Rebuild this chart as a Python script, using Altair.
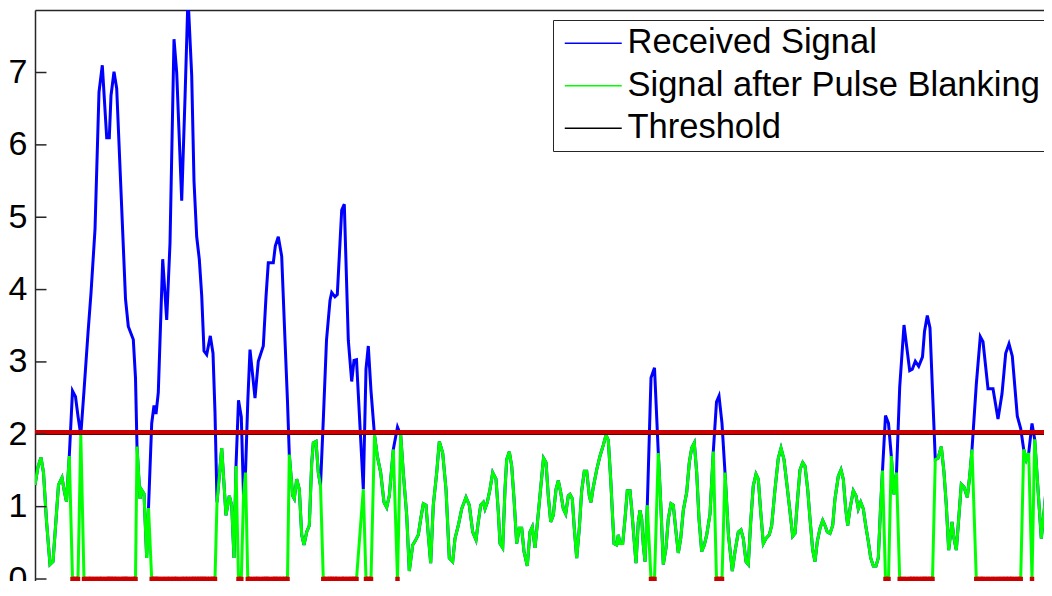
import altair as alt
import pandas as pd

# ---- data ----
time_us = [
    0.00, 0.30, 0.60, 0.85, 1.15, 1.50, 1.80, 2.05, 2.35, 2.70,
    2.95, 3.15, 3.43, 3.75, 4.05, 4.30, 4.58, 4.90, 5.30, 5.60,
    6.00, 6.40, 6.73, 7.17, 7.43, 7.60, 7.90, 8.17, 8.57, 8.90,
    9.05, 9.33, 9.83, 10.05, 10.20, 10.50, 10.67, 10.90, 11.17, 11.35,
    11.67, 11.90, 12.10, 12.33, 12.77, 13.17, 13.50, 13.90, 14.17, 14.67,
    15.00, 15.30, 15.67, 15.90, 16.17, 16.43, 16.67, 16.90, 17.17, 17.53,
    17.80, 18.00, 18.20, 18.67, 19.10, 19.43, 19.67, 19.90, 20.10, 20.35,
    20.63, 20.85, 21.05, 21.28, 21.50, 22.00, 22.33, 22.83, 23.10, 23.33,
    23.83, 24.03, 24.33, 24.67, 25.00, 25.25, 25.43, 25.77, 25.93, 26.17,
    26.43, 26.67, 26.90, 27.17, 27.43, 27.67, 27.83, 28.10, 28.33, 28.55,
    28.83, 29.15, 29.50, 29.67, 30.00, 30.23, 30.67, 30.93, 31.33, 31.67,
    31.90, 32.15, 32.83, 33.10, 33.33, 33.60, 33.95, 34.23, 34.57, 34.90,
    35.17, 35.43, 35.83, 36.25, 36.57, 36.83, 37.17, 37.43, 37.77, 38.00,
    38.33, 38.57, 38.83, 39.10, 39.33, 39.57, 39.83, 40.17, 40.43, 40.77,
    41.10, 41.43, 41.77, 42.00, 42.33, 42.67, 43.10, 43.43, 43.77, 44.10,
    44.33, 44.57, 44.83, 45.00, 45.23, 45.50, 45.77, 46.10, 46.33, 46.50,
    46.77, 47.00, 47.17, 47.43, 47.67, 47.90, 48.17, 48.43, 48.67, 48.90,
    49.23, 49.50, 49.73, 50.00, 50.25, 50.85, 51.10, 51.33, 51.57, 51.83,
    52.10, 52.33, 52.57, 52.83, 53.07, 53.33, 53.50, 53.73, 53.93, 54.17,
    54.43, 54.67, 54.93, 55.17, 55.43, 55.60, 55.83, 56.17, 56.50, 56.83,
    57.10, 57.33, 57.57, 57.77, 57.90, 58.17, 58.33, 58.50, 58.77, 59.00,
    59.23, 59.50, 59.67, 59.90, 60.10, 60.33, 60.50, 60.67, 60.83, 61.00,
    61.23, 61.60, 61.95, 62.33, 62.57, 62.83, 63.10, 63.33, 63.60, 63.83,
    64.10, 64.33, 64.57, 64.83, 65.17, 65.43, 65.67, 65.93, 66.17, 66.40,
    66.67, 66.93, 67.17, 67.50, 67.83, 68.15, 68.40, 68.70, 69.00, 69.35,
    69.73, 70.00, 70.33, 70.60, 70.83, 71.10, 71.33, 71.57, 71.83, 72.10,
    72.33, 72.57, 72.83, 73.10, 73.43, 73.67, 74.00, 74.33, 74.60, 74.90,
    75.17, 75.50, 75.77, 76.00, 76.23, 76.50, 76.77, 77.00, 77.27, 77.50,
    77.77, 78.00, 78.23, 78.50, 78.77, 79.00, 79.23, 79.50, 79.77, 80.00,
    80.33, 80.60, 80.83, 81.07, 81.27, 81.50, 81.83, 82.10, 82.33, 82.57,
    82.83, 83.07, 83.33, 83.57, 83.83, 84.10, 84.33, 84.55, 84.75, 85.05,
    85.35, 85.63, 85.90, 86.15, 86.47, 86.90, 87.47, 87.73, 88.03, 88.37,
    88.75, 88.95, 89.23, 89.50, 89.75, 90.03, 90.30, 90.63, 90.90, 91.13,
    91.37, 91.70, 91.90, 92.13, 92.37, 92.63, 92.90, 93.23, 93.47, 93.70,
    94.13, 94.53, 94.80, 95.30, 95.80, 96.30, 96.70, 97.07, 97.40, 97.73,
    98.23, 98.57, 98.87, 99.13, 99.37, 99.70, 99.97, 100.30, 100.63, 100.97,
    101.30, 101.63,
]

received = [
    1.30, 1.55, 1.68, 1.47, 0.80, 0.20, 0.24, 0.72, 1.30, 1.40,
    1.20, 1.07, 1.70, 2.60, 2.52, 2.25, 1.99, 2.60, 3.40, 3.95,
    4.83, 6.73, 7.10, 6.10, 6.10, 6.68, 7.01, 6.78, 5.46, 4.37,
    3.87, 3.49, 3.31, 2.78, 1.83, 1.11, 1.23, 1.18, 0.29, 0.98,
    2.15, 2.40, 2.28, 2.58, 4.42, 3.58, 4.64, 7.46, 7.00, 5.23,
    6.64, 8.05, 6.96, 5.50, 4.73, 4.42, 3.92, 3.15, 3.10, 3.36,
    3.12, 2.30, 1.06, 1.81, 0.88, 1.15, 1.02, 0.29, 1.56, 2.47,
    2.24, 1.15, 1.47, 2.46, 3.17, 2.50, 3.01, 3.22, 3.90, 4.37,
    4.37, 4.60, 4.73, 4.46, 3.30, 2.45, 1.72, 1.15, 1.11, 1.38,
    1.24, 0.61, 0.47, 0.65, 0.74, 1.60, 1.88, 1.90, 1.47, 1.29,
    2.20, 3.30, 3.85, 3.96, 3.90, 3.93, 5.10, 5.18, 3.30, 2.73,
    3.02, 3.03, 1.24, 2.90, 3.22, 2.60, 1.99, 1.70, 1.47, 1.06,
    0.99, 1.15, 1.79, 2.10, 1.99, 1.47, 0.88, 0.11, 0.47, 0.52,
    0.61, 0.83, 1.04, 1.02, 0.61, 0.22, 1.02, 1.47, 1.90, 1.74,
    1.24, 0.29, 0.24, 0.56, 0.74, 0.97, 1.13, 1.02, 0.65, 0.54,
    0.79, 1.02, 1.06, 0.97, 1.06, 1.24, 1.47, 1.38, 0.93, 0.49,
    0.43, 1.24, 1.65, 1.76, 1.56, 1.11, 0.49, 0.70, 0.70, 0.38,
    0.18, 0.65, 0.72, 0.43, 0.79, 1.67, 1.61, 1.15, 0.79, 0.88,
    1.24, 1.36, 1.20, 0.97, 0.90, 1.15, 1.17, 1.11, 0.70, 0.29,
    0.70, 1.22, 1.49, 1.49, 1.15, 1.06, 1.27, 1.51, 1.70, 1.85,
    1.99, 1.92, 1.38, 0.83, 0.49, 0.47, 0.61, 0.49, 0.49, 0.83,
    1.22, 1.22, 0.97, 0.56, 0.22, 0.79, 0.95, 0.83, 0.47, 0.24,
    1.02, 2.78, 2.92, 1.74, 1.06, 0.20, 0.43, 0.83, 1.04, 1.02,
    0.65, 0.36, 0.56, 0.95, 1.20, 1.61, 1.81, 1.88, 1.47, 0.83,
    0.38, 0.47, 0.61, 0.90, 1.76, 2.45, 2.53, 2.15, 1.47, 0.60,
    0.11, 0.38, 0.65, 0.68, 0.56, 0.24, 0.20, 0.79, 1.29, 1.45,
    1.38, 0.93, 0.49, 0.56, 0.61, 0.74, 1.24, 1.67, 1.81, 1.65,
    1.33, 0.93, 0.59, 0.63, 1.06, 1.51, 1.61, 1.56, 1.24, 0.83,
    0.40, 0.24, 0.52, 0.70, 0.81, 0.74, 0.65, 0.63, 0.74, 1.11,
    1.42, 1.51, 1.38, 0.97, 0.74, 0.97, 1.22, 1.15, 0.97, 1.06,
    0.97, 0.74, 0.52, 0.29, 0.18, 0.18, 0.29, 0.97, 1.50, 2.26,
    2.15, 1.70, 1.17, 1.47, 2.65, 3.51, 2.88, 2.90, 3.01, 2.94,
    3.07, 3.42, 3.64, 3.47, 2.60, 1.65, 1.67, 1.83, 1.47, 1.02,
    0.40, 0.79, 0.56, 0.40, 0.83, 1.31, 1.27, 1.13, 1.42, 1.79,
    2.69, 3.35, 3.28, 2.63, 2.63, 2.21, 2.56, 3.12, 3.25, 3.08,
    2.25, 2.08, 1.79, 1.65, 1.74, 2.15, 1.93, 1.24, 0.56, 1.02,
    1.56, 1.90,
]

threshold = 2.0
y_ticks = [0, 1, 2, 3, 4, 5, 6, 7]
x_range = [0, 100.9]
y_range = [-0.0276, 7.864]
series_names = ["Received Signal", "Signal after Pulse Blanking", "Threshold"]
series_colors = ["#0000ff", "#00ff00", "#000000"]
blank_color = "#cc0000"

# ---- tables built from the arrays ----
df = pd.DataFrame({"t": time_us, "received": received})
df["blanked"] = df["received"] > threshold
df["after"] = df["received"].where(~df["blanked"], 0.0)
df["run"] = (df["blanked"] != df["blanked"].shift()).cumsum()
df["zero"] = 0.0

blue_df = df[["t", "received"]].rename(columns={"received": "v"})
blue_df["series"] = series_names[0]
green_df = df[["t", "after"]].rename(columns={"after": "v"})
green_df["series"] = series_names[1]
thr_df = pd.DataFrame({"v": [threshold], "series": [series_names[2]]})
blank_df = df[df["blanked"]][["t", "zero", "run"]]
tick_df = pd.DataFrame({"v": y_ticks})

FONT = "Liberation Sans"
AXIS_COLOR = "#262626"

x_axis = alt.Axis(orient="top", labels=False, ticks=False, title=None, grid=False,
                  domainColor=AXIS_COLOR, domainWidth=1.5)
y_axis = alt.Axis(values=y_ticks, title=None, grid=False, ticks=False, tickSize=0,
                  labelFont=FONT, labelFontSize=34, labelColor="#000000",
                  labelPadding=8, labelOverlap=False, labelFlush=False,
                  domainColor=AXIS_COLOR, domainWidth=1.5)
x_scale = alt.Scale(domain=x_range, nice=False, zero=False)
y_scale = alt.Scale(domain=y_range, nice=False, zero=False)
color_scale = alt.Scale(domain=series_names, range=series_colors)
legend = alt.Legend(title=None, orient="none", legendX=518, legendY=10,
                    symbolType="M-3,0H3", symbolSize=361, symbolStrokeWidth=1.7,
                    labelFont=FONT, labelFontSize=34.5, labelColor="#000000",
                    labelLimit=800, labelOffset=17, symbolOffset=17,
                    padding=6, rowPadding=7.5,
                    fillColor="#ffffff", strokeColor=AXIS_COLOR)

X = alt.X("t:Q", scale=x_scale, axis=x_axis)
color = alt.Color("series:N", scale=color_scale, legend=legend)

def Y(field):
    return alt.Y(field, scale=y_scale, axis=y_axis)

blue = alt.Chart(blue_df).mark_line(strokeWidth=3, clip=True).encode(
    x=X, y=Y("v:Q"), color=color)
green = alt.Chart(green_df).mark_line(strokeWidth=3, clip=True).encode(
    x=X, y=Y("v:Q"), color=color)
thr_black = alt.Chart(thr_df).mark_rule(strokeWidth=1.5).encode(
    y=Y("v:Q"), color=color)
thr_red = alt.Chart(thr_df).mark_rule(strokeWidth=4.5, color=blank_color, yOffset=-2).encode(
    y=Y("v:Q"))
zero_line = alt.Chart(blank_df).mark_line(strokeWidth=4.5, color=blank_color, clip=True).encode(
    x=X, y=Y("zero:Q"), detail="run:N")
zero_pts = alt.Chart(blank_df).mark_square(size=20, color=blank_color, opacity=1,
                                           filled=True, clip=True).encode(
    x=X, y=Y("zero:Q"))
ticks = alt.Chart(tick_df).mark_rule(color=AXIS_COLOR, strokeWidth=1.5).encode(
    y=Y("v:Q"), x=alt.value(0), x2=alt.value(11.5))

chart = alt.layer(blue, green, thr_black, thr_red, zero_line, zero_pts, ticks).properties(
    width=1009, height=571,
    padding={"left": 27, "top": 2, "right": 0, "bottom": 0},
    autosize=alt.AutoSizeParams(type="none"),
    background="#ffffff",
).configure_view(stroke=None)

chart.save("out.html", embed_options={"renderer": "svg", "actions": False})
